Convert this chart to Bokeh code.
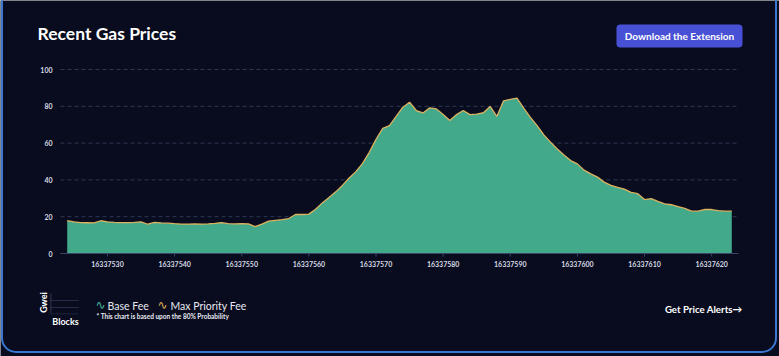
from bokeh.plotting import figure
from bokeh.models import Label, BoxAnnotation, Range1d, ColumnDataSource
from bokeh.embed import file_html
from bokeh.resources import INLINE

# ---- data ----
start_block = 16337524
gas = [17.9, 17.2, 16.8, 16.7, 16.6, 17.8, 17.2, 16.9, 16.8, 16.8,
       16.9, 17.2, 15.9, 16.9, 16.6, 16.5, 16.2, 16.0, 16.0, 16.1,
       16.0, 16.1, 16.4, 16.8, 16.2, 16.1, 16.2, 16.1, 14.6, 16.0,
       17.6, 18.0, 18.4, 19.0, 21.2, 21.2, 21.4, 24.0, 27.5, 30.5,
       33.5, 37.0, 41.0, 44.5, 49.0, 55.0, 62.0, 68.0, 69.5, 74.5,
       79.5, 82.2, 77.7, 76.4, 79.2, 78.6, 75.5, 72.3, 75.5, 77.7,
       75.5, 75.8, 76.5, 79.9, 74.5, 83.0, 83.8, 84.4, 79.0, 74.0,
       69.5, 64.5, 60.5, 56.8, 53.5, 50.5, 48.7, 45.3, 43.3, 41.5,
       38.8, 37.0, 35.9, 35.0, 33.2, 32.5, 29.3, 29.8, 28.3, 27.0,
       26.5, 25.5, 24.5, 23.0, 23.0, 24.0, 23.9, 23.3, 23.0, 23.0]
blocks = [start_block + i for i in range(len(gas))]
x_ticks = [16337530 + 10 * k for k in range(10)]
x_tick_labels = [str(t) for t in x_ticks]
y_ticks = [0, 20, 40, 60, 80, 100]
y_tick_labels = [str(t) for t in y_ticks]

# ---- layout (pixels) ----
W, H = 779, 356
FL, FR, FT, FB = 60, 738, 69, 253          # chart area in pixels
X0, X1, Y0, Y1 = 16337523, 16337624, 0, 100
kx = (X1 - X0) / (FR - FL)
ky = (Y1 - Y0) / (FB - FT)

BG = "#080c1e"
TXT = "#e8eaf2"
FONT = "Lato"

p = figure(width=W, height=H, output_backend="svg", toolbar_location=None,
           x_range=Range1d(X0 - FL * kx, X1 + (W - FR) * kx),
           y_range=Range1d(Y0 - (H - FB) * ky, Y1 + FT * ky),
           x_axis_location=None, y_axis_location=None, min_border=0,
           background_fill_color=BG, border_fill_color=BG, outline_line_color=None)
p.xgrid.visible = False
p.ygrid.visible = False

# grid lines (dashed)
p.segment(x0=[X0] * len(y_ticks), x1=[X1] * len(y_ticks), y0=y_ticks, y1=y_ticks,
          line_color="#2e3856", line_width=1, line_dash="4 3")

# series
src = ColumnDataSource(dict(x=blocks, y=gas, z=[0] * len(gas)))
p.varea(x="x", y1="z", y2="y", source=src, fill_color="#43a98b", fill_alpha=1.0)
p.line(x="x", y="y", source=src, line_color="#dcb160", line_width=1.3)

# x axis line and ticks
p.segment(x0=[X0], x1=[X1], y0=[Y0], y1=[Y0], line_color="#3a4466", line_width=1)
p.segment(x0=x_ticks, x1=x_ticks, y0=[Y0] * len(x_ticks), y1=[Y0 - 3 * ky] * len(x_ticks),
          line_color="#3a4466", line_width=1)

# tick labels
p.text(x=x_ticks, y=[Y0] * len(x_ticks), text=x_tick_labels, y_offset=10,
       text_font={"value": FONT}, text_font_style="bold", text_font_size="7px",
       text_color="#d6d9e4", text_align="center", text_baseline="middle")
p.text(x=[X0] * len(y_ticks), y=y_ticks, text=y_tick_labels, x_offset=-8,
       text_font={"value": FONT}, text_font_style="bold", text_font_size="7px",
       text_color="#d6d9e4", text_align="right", text_baseline="middle")


def box(left, right, top, bottom, level="underlay", **kw):
    # pixel coordinates (top-down) -> screen units (bottom-up, frame = whole canvas)
    opts = dict(line_alpha=1.0, fill_alpha=1.0)
    opts.update(kw)
    p.add_layout(BoxAnnotation(left=left, right=right, top=H - top, bottom=H - bottom,
                               left_units="screen", right_units="screen",
                               top_units="screen", bottom_units="screen", level=level, **opts))


def label(x, y, text, **kw):
    opts = dict(text_font=FONT, text_color=TXT, text_baseline="middle", text_align="left")
    opts.update(kw)
    p.add_layout(Label(x=x, y=H - y, x_units="screen", y_units="screen", text=text, **opts))


# card border
box(1.5, 775.5, -14, 351.5, level="overlay", fill_color=None, line_color="#3b76cf",
    line_width=2, border_radius=14)

# title
label(37, 33, "Recent Gas Prices", text_font_style="bold", text_font_size="17.5px", text_color="#ffffff")

# button
box(616, 742, 24, 47, fill_color="#4850d6", line_color=None, border_radius=4)
label(679, 35.5, "Download the Extension", text_font_style="bold", text_font_size="10px",
      text_color="#ffffff", text_align="center")

# Gwei / Blocks mini legend
label(43, 302, "Gwei", angle=1.5708, text_font_style="bold", text_font_size="9px",
      text_color="#ffffff", text_align="center")
label(65, 321, "Blocks", text_font_style="bold", text_font_size="9px",
      text_color="#ffffff", text_align="center")
for yy in (300, 307):
    box(50, 78, yy, yy + 0.01, fill_color=None, line_color="#3a4262", line_width=0.8, line_dash="1 1")
box(50, 50.8, 293, 313, fill_color="#3a4262", line_color=None)
box(50, 78, 313, 313.8, fill_color="#232a46", line_color=None)

# series legend
legend_items = [(95, "#46b69a", 107, "Base Fee"), (157, "#dcae58", 170, "Max Priority Fee")]
for ix, col, tx, name in legend_items:
    label(ix, 304, "\u223f", text_font="DejaVu Sans", text_font_size="12px", text_color=col)
    label(tx, 305, name, text_font_size="10.5px")
label(96, 316, "* This chart is based upon the 80% Probability",
      text_font_style="bold", text_font_size="6.5px")

# price alerts link
label(742, 308, "Get Price Alerts\u2192", text_font_style="bold", text_font_size="9.7px",
      text_color="#ffffff", text_align="right")

open("out.html", "w").write(file_html(p, INLINE))
